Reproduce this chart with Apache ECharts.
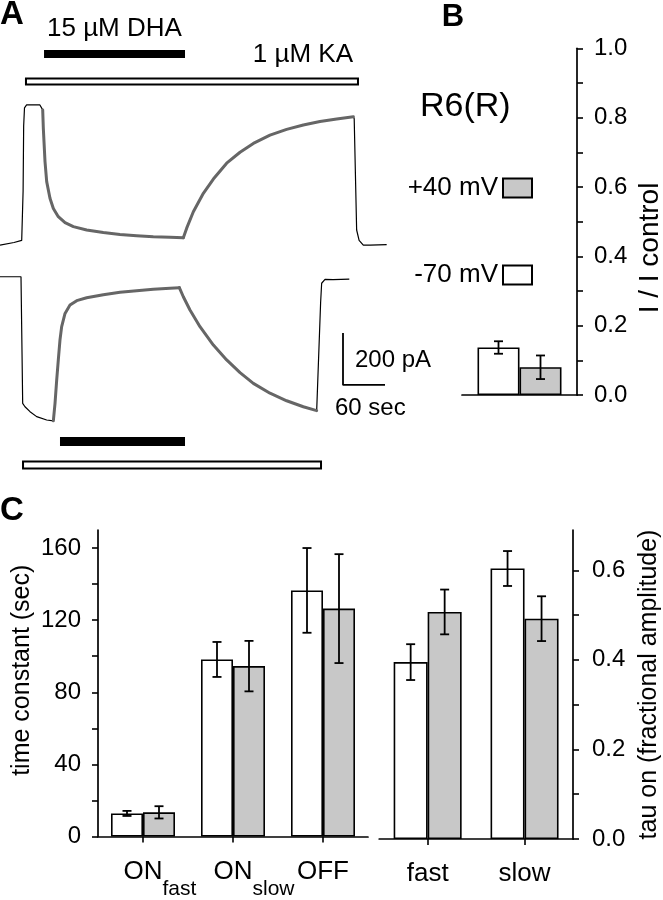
<!DOCTYPE html>
<html><head><meta charset="utf-8">
<script src="https://cdn.jsdelivr.net/npm/echarts@6/dist/echarts.min.js"></script>
<style>html,body{margin:0;padding:0;background:#fff}#chart{width:663px;height:900px}</style>
</head><body><div id="chart"></div>
<script>
// ---------------- DATA ----------------
// Panel A: whole-cell current traces (time in s, current in pA)
const upperBlackStart = [[0,-8],[20,2],[31,10],[33,200],[33.8,450],[35,520],[38,531],[57,531],[59.5,527],[61,512]];
const upperGrayDecay  = [[61,512],[61.9,441],[64.3,313],[66.7,236],[71.4,172],[76.2,133],[83.3,101],[92.9,78],[104.8,63],[123.8,50],[147.6,40],[171.4,33],[195.2,28],[219,24],[242.9,22],[261.9,20]];
const upperGrayRise   = [[261.9,20],[266.7,57],[276.2,120],[290.5,191],[304.8,246],[323.8,307],[342.9,349],[361.9,383],[385.7,415],[409.5,437],[433.3,454],[457.1,467],[481,477],[504.8,486]];
const upperBlackEnd   = [[504.8,486],[506,478],[509.5,50],[513,10],[519,-8],[528.6,-8],[552.4,-6]];
const lowerBlackStart = [[0,1],[30,1],[31.5,-300],[32.4,-486],[35.7,-499],[42.9,-518],[52.4,-537],[66.7,-550],[76.2,-553]];
const lowerGrayRise   = [[76.2,-553],[78.6,-486],[81,-396],[83.3,-319],[85.7,-242],[88.1,-191],[92.9,-140],[100,-108],[109.6,-91],[123.8,-80],[147.6,-68],[171.4,-59],[195.2,-53],[219,-47],[242.9,-43],[256.2,-41]];
const lowerGrayFall   = [[256.2,-41],[261.9,-76],[271.4,-127],[285.7,-191],[304.8,-262],[323.8,-319],[342.9,-368],[361.9,-409],[385.7,-447],[409.5,-476],[433.3,-499],[452.4,-514]];
const lowerBlackEnd   = [[452.4,-514],[454,-510],[458,-100],[459.5,-24],[464.3,-9],[476,-10],[499,-8]];
// drug application periods (s)
const dhaUpper = [62.9, 264.3];
const kaUpper  = [37.1, 511.4];
const dhaLower = [85.7, 264.3];
const kaLower  = [32.9, 458.6];
// scale bar sizes
const scaleBarTime = 60;      // sec
const scaleBarCurrent = 200;  // pA

// Panel B: I / I control
const bCategories = ['R6(R)'];
const bWhite = [0.137];  const bWhiteErr = [0.018];
const bGray  = [0.080];  const bGrayErr  = [0.034];
const bTicks = [0,0.1,0.2,0.3,0.4,0.5,0.6,0.7,0.8,0.9,1.0];
const bLabels = [0,0.2,0.4,0.6,0.8,1.0];

// Panel C: time constants (sec) and fractional amplitudes
const cCatsTau = ['ON_fast','ON_slow','OFF'];
const cTauWhite = [12.8, 98.2, 136.5]; const cTauWhiteErr = [1.4, 9.7, 23.5];
const cTauGray  = [13.4, 94.5, 126.4]; const cTauGrayErr  = [3.4, 14.0, 30.2];
const cCatsAmp = ['fast','slow'];
const cAmpWhite = [0.395, 0.604]; const cAmpWhiteErr = [0.040, 0.039];
const cAmpGray  = [0.507, 0.492]; const cAmpGrayErr  = [0.050, 0.050];
const tauTicks = [0,20,40,60,80,100,120,140,160];
const tauLabels = [0,40,80,120,160];
const ampTicks = [0,0.1,0.2,0.3,0.4,0.5,0.6];
const ampLabels = [0,0.2,0.4,0.6];

// ---------------- LAYOUT / STYLE ----------------
const FF = '"Liberation Sans", Arial, sans-serif';
const GRAY_TRACE = '#666666';
const GRAY_FILL = '#c8c8c8';
const scaleBarOrigin = [490, -415]; // in lower-trace data coords

const ctx = document.createElement('canvas').getContext('2d');
ctx.font = '26px ' + FF;
const wON = ctx.measureText('ON').width;
ctx.font = '21px ' + FF;
const wFast = ctx.measureText('fast').width;
const wSlow = ctx.measureText('slow').width;

function blackLine(data, xi) {
  return {type:'line', xAxisIndex:xi, yAxisIndex:xi, data, showSymbol:false, symbol:'none',
    lineStyle:{color:'#000', width:1.2}, silent:true, z:2};
}
function grayLine(data, xi) {
  return {type:'line', xAxisIndex:xi, yAxisIndex:xi, data, showSymbol:false, symbol:'none',
    smooth:false, lineStyle:{color:GRAY_TRACE, width:3, join:'round', cap:'round'}, silent:true, z:3};
}
function appBar(period, xi, yPx, hPx, fill) {
  return {type:'custom', xAxisIndex:xi, yAxisIndex:xi, data:[[period[0], period[1]]],
    encode:{x:[0,1]}, silent:true,
    renderItem:function(params, api){
      const s = api.coord([api.value(0), 0]);
      const e = api.coord([api.value(1), 0]);
      return {type:'rect', shape:{x:s[0], y:yPx, width:e[0]-s[0], height:hPx},
        style: fill === '#000' ? {fill:'#000'} : {fill:fill, stroke:'#000', lineWidth:2}};
    }};
}
function errSeries(means, errs, xi, offsetPx) {
  return {type:'custom', xAxisIndex:xi, yAxisIndex:xi, z:5, silent:true,
    data: means.map((m,i)=>[i, m, errs[i]]), encode:{x:0, y:1},
    renderItem:function(params, api){
      const i = api.value(0), m = api.value(1), e = api.value(2);
      const t = api.coord([i, m + e]);
      const b = api.coord([i, m - e]);
      const x = t[0] + offsetPx, hw = 4.5;
      const st = {stroke:'#000', lineWidth:1.8};
      return {type:'group', children:[
        {type:'line', shape:{x1:x, y1:t[1], x2:x, y2:b[1]}, style:st},
        {type:'line', shape:{x1:x-hw, y1:t[1], x2:x+hw, y2:t[1]}, style:st},
        {type:'line', shape:{x1:x-hw, y1:b[1], x2:x+hw, y2:b[1]}, style:st}
      ]};
    }};
}
function barSeries(name, data, xi, width, color) {
  return {type:'bar', name, xAxisIndex:xi, yAxisIndex:xi, data, barWidth:width, barGap:'0%',
    itemStyle:{color, borderColor:'#000', borderWidth:1.6}, silent:true, z:2};
}
const axisLineStyle = {show:true, lineStyle:{color:'#000', width:1.7}};
const tickLabelStyle = {color:'#000', fontSize:24, fontFamily:FF};

// category label: main text centred on tick, subscript hanging to the right and lowered
const catRich = {
  m:{fontSize:26, fontFamily:FF, color:'#000', lineHeight:26},
  s:{fontSize:21, fontFamily:FF, color:'#000', lineHeight:10},
  padfast:{width:wON + wFast, lineHeight:10}, padslow:{width:wON + wSlow, lineHeight:10}
};
function catFormatter(v) {
  const parts = v.split('_');
  if (parts.length > 1) return '{m|' + parts[0] + '}\n{pad' + parts[1] + '|}{s|' + parts[1] + '}';
  return '{m|' + v + '}';
}

const option = {
  animation:false,
  backgroundColor:'#fff',
  textStyle:{fontFamily:FF},
  grid:[
    {left:0, top:87, width:392, height:182},
    {left:0, top:251, width:392, height:182},
    {left:462, top:48.3, width:115, height:346.7},
    {left:98, top:530, width:270, height:309},
    {left:379.2, top:530, width:194.5, height:309}
  ],
  xAxis:[
    {type:'value', gridIndex:0, min:0, max:560, show:false},
    {type:'value', gridIndex:1, min:0, max:560, show:false},
    {type:'category', gridIndex:2, data:bCategories, axisLine:axisLineStyle, axisTick:{show:false}, axisLabel:{show:false}},
    {type:'category', gridIndex:3, data:cCatsTau, axisLine:axisLineStyle,
      axisTick:{show:true, alignWithLabel:true, length:6, lineStyle:{color:'#000', width:1.6}},
      axisLabel:{margin:22, formatter:catFormatter, rich:catRich, interval:0, verticalAlign:'top'}},
    {type:'category', gridIndex:4, data:cCatsAmp, axisLine:axisLineStyle,
      axisTick:{show:true, alignWithLabel:true, length:6, lineStyle:{color:'#000', width:1.6}},
      axisLabel:{margin:22, formatter:catFormatter, rich:catRich, interval:0, verticalAlign:'top'}}
  ],
  yAxis:[
    {type:'value', gridIndex:0, min:-100, max:600, show:false},
    {type:'value', gridIndex:1, min:-600, max:100, show:false},
    {type:'value', gridIndex:2, position:'right', min:0, max:1, splitLine:{show:false},
      axisLine:axisLineStyle,
      axisTick:{show:true, length:6, customValues:bTicks, lineStyle:{color:'#000', width:1.6}},
      axisLabel:Object.assign({margin:17, customValues:bLabels, formatter:v=>v.toFixed(1)}, tickLabelStyle)},
    {type:'value', gridIndex:3, position:'left', min:0, max:170, splitLine:{show:false},
      axisLine:axisLineStyle,
      axisTick:{show:true, length:6, customValues:tauTicks, lineStyle:{color:'#000', width:1.6}},
      axisLabel:Object.assign({margin:17, customValues:tauLabels}, tickLabelStyle),
      name:'time constant (sec)', nameLocation:'middle', nameGap:63,
      nameTextStyle:{fontSize:25, fontFamily:FF, color:'#000', padding:[0,0,0,26]}},
    {type:'value', gridIndex:4, position:'right', min:0, max:0.69, splitLine:{show:false},
      axisLine:axisLineStyle,
      axisTick:{show:true, length:6, customValues:ampTicks, lineStyle:{color:'#000', width:1.6}},
      axisLabel:Object.assign({margin:19, customValues:ampLabels, formatter:v=>v.toFixed(1)}, tickLabelStyle),
      name:'tau on (fractional amplitude)', nameLocation:'middle', nameGap:64,
      nameTextStyle:{fontSize:25, fontFamily:FF, color:'#000'}}
  ],
  legend:{data:['+40 mV','-70 mV'], orient:'vertical', right:130, top:175, align:'right',
    itemWidth:29, itemHeight:19, itemGap:61, padding:0, icon:'rect', selectedMode:false,
    textStyle:{fontSize:26, fontFamily:FF, color:'#000'}},
  graphic:[
    {type:'text', x:0, y:15, style:{text:'A', fontSize:33, fontWeight:'bold', fontFamily:FF, fill:'#000', align:'left', verticalAlign:'middle'}},
    {type:'text', x:47, y:28.5, style:{text:'15 µM DHA', fontSize:26, fontFamily:FF, fill:'#000', align:'left', verticalAlign:'middle'}},
    {type:'text', x:353, y:55, style:{text:'1 µM KA', fontSize:26, fontFamily:FF, fill:'#000', align:'right', verticalAlign:'middle'}},
    {type:'text', x:355, y:360, style:{text:'200 pA', fontSize:24, fontFamily:FF, fill:'#000', align:'left', verticalAlign:'middle'}},
    {type:'text', x:335, y:408, style:{text:'60 sec', fontSize:24, fontFamily:FF, fill:'#000', align:'left', verticalAlign:'middle'}},
    {type:'text', x:453, y:17.6, style:{text:'B', fontSize:31, fontWeight:'bold', fontFamily:FF, fill:'#000', align:'center', verticalAlign:'middle'}},
    {type:'text', x:420, y:106.5, style:{text:'R6(R)', fontSize:34, fontFamily:FF, fill:'#000', align:'left', verticalAlign:'middle'}},
    {type:'text', x:650, y:248, rotation:Math.PI/2, style:{text:'I / I control', fontSize:28, fontFamily:FF, fill:'#000', align:'center', verticalAlign:'middle'}},
    {type:'text', x:0, y:511, style:{text:'C', fontSize:33, fontWeight:'bold', fontFamily:FF, fill:'#000', align:'left', verticalAlign:'middle'}}
  ],
  series:[
    // Panel A
    appBar(dhaUpper, 0, 50, 8, '#000'),
    appBar(kaUpper, 0, 78.5, 6, '#fff'),
    appBar(dhaLower, 1, 437, 9, '#000'),
    appBar(kaLower, 1, 461.5, 7, '#fff'),
    blackLine(upperBlackStart, 0), blackLine(upperBlackEnd, 0),
    grayLine(upperGrayDecay, 0), grayLine(upperGrayRise, 0),
    blackLine(lowerBlackStart, 1), blackLine(lowerBlackEnd, 1),
    grayLine(lowerGrayRise, 1), grayLine(lowerGrayFall, 1),
    {type:'line', xAxisIndex:1, yAxisIndex:1, showSymbol:false, symbol:'none', silent:true,
      data:[[scaleBarOrigin[0], scaleBarOrigin[1] + scaleBarCurrent], scaleBarOrigin,
            [scaleBarOrigin[0] + scaleBarTime, scaleBarOrigin[1]]],
      lineStyle:{color:'#000', width:1.8}},
    // Panel B
    barSeries('-70 mV', bWhite, 2, 42, '#fff'),
    barSeries('+40 mV', bGray, 2, 42, GRAY_FILL),
    errSeries(bWhite, bWhiteErr, 2, -21),
    errSeries(bGray, bGrayErr, 2, 21),
    // Panel C left
    barSeries('-70 mV', cTauWhite, 3, 32, '#fff'),
    barSeries('+40 mV', cTauGray, 3, 32, GRAY_FILL),
    errSeries(cTauWhite, cTauWhiteErr, 3, -16),
    errSeries(cTauGray, cTauGrayErr, 3, 16),
    // Panel C right
    barSeries('-70 mV', cAmpWhite, 4, 34, '#fff'),
    barSeries('+40 mV', cAmpGray, 4, 34, GRAY_FILL),
    errSeries(cAmpWhite, cAmpWhiteErr, 4, -17),
    errSeries(cAmpGray, cAmpGrayErr, 4, 17)
  ]
};
const chart = echarts.init(document.getElementById('chart'), null, {renderer:'canvas'});
chart.setOption(option);
</script></body></html>
